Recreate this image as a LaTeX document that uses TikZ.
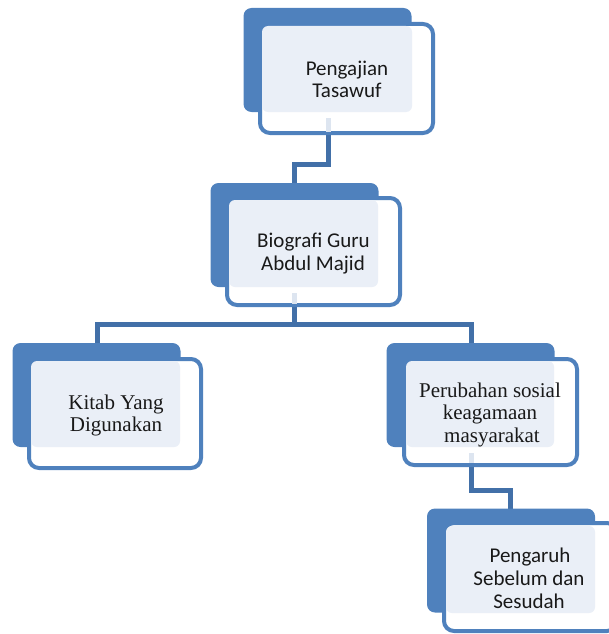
\documentclass[tikz,border=0pt]{standalone}
\usepackage{fontspec}
\setmainfont{Liberation Serif}
\newfontfamily\calibri{Carlito}
\definecolor{blueA}{RGB}{79,129,189}
\definecolor{connblue}{RGB}{66,112,168}
\definecolor{lightfill}{RGB}{234,239,247}
\definecolor{faint}{RGB}{221,229,240}
\tikzset{
  backbox/.style={rectangle, rounded corners=8pt, fill=blueA, inner sep=0pt, outer sep=0pt, minimum width=168pt, minimum height=104pt},
  frontbox/.style={rectangle, rounded corners=10pt, draw=blueA, line width=4pt, fill=white, inner sep=0pt, outer sep=0pt, minimum width=173pt, minimum height=107pt},
  conn/.style={draw=connblue, line width=5pt},
  faintline/.style={draw=faint, line width=5pt},
  sanslbl/.style={font=\calibri\fontsize{21}{23.5}\selectfont, text=black!90, align=center, inner sep=0pt, anchor=base},
  seriflbl/.style={font=\fontsize{21}{22.5}\selectfont, text=black!90, align=center, inner sep=0pt, anchor=base}
}
\newcommand{\lightpart}[4]{\fill[lightfill, rounded corners=6pt] (#1,#2) rectangle (#3,#4);}
\begin{document}
\begin{tikzpicture}[x=1pt,y=-1pt]
\useasboundingbox (0,0) rectangle (609,634);
\clip (0,0) rectangle (609,634);

% connector anchor coordinates
\coordinate (c1a) at (328.5,120);
\coordinate (c1b) at (328.5,164.5);
\coordinate (c1c) at (294.5,164.5);
\coordinate (c1d) at (294.5,190);
\coordinate (c2a) at (294.5,295);
\coordinate (c2b) at (294.5,324);
\coordinate (c2l) at (97,324);
\coordinate (c2r) at (471,324);
\coordinate (c3in) at (97,350);
\coordinate (c4in) at (471,350);
\coordinate (c4a) at (471,455);
\coordinate (c4b) at (471,490);
\coordinate (c4c) at (510.5,490);
\coordinate (c5in) at (510.5,515);

% connectors
\draw[conn] (c1a) -- (c1b) -- (c1c) -- (c1d);
\draw[conn] (c2a) -- (c2b);
\draw[conn] (c3in) -- (c2l) -- (c2r) -- (c4in);
\draw[conn] (c4a) -- (c4b) -- (c4c) -- (c5in);

% node 1
\node[backbox] (n1b) at (327.5,60) {};
\node[frontbox, minimum height=109pt] (n1) at (346.5,78.5) {};
\lightpart{262}{26}{412}{112}
\draw[faintline] (328.5,118) -- (328.5,132);
\node[sanslbl] (t1a) at (347,75) {Pengajian};
\node[sanslbl] (t1b) at (347,97.5) {Tasawuf};

% node 2
\node[backbox] (n2b) at (294.5,235) {};
\node[frontbox] (n2) at (313.5,251.5) {};
\lightpart{229}{200}{378}{287}
\draw[faintline] (294.5,293) -- (294.5,304);
\node[sanslbl] (t2a) at (313.5,247) {Biografi Guru};
\node[sanslbl] (t2b) at (313,270) {Abdul Majid};

% node 3
\node[backbox] (n3b) at (96.5,395) {};
\node[frontbox, minimum width=172pt, minimum height=109pt] (n3) at (115,413.5) {};
\lightpart{31}{361}{180}{447}
\node[seriflbl] (t3a) at (116,409) {Kitab Yang};
\node[seriflbl] (t3b) at (116,431) {Digunakan};

% node 4
\node[backbox] (n4b) at (470.5,395) {};
\node[frontbox, minimum height=106pt] (n4) at (490.5,412) {};
\lightpart{406}{361}{554}{447}
\draw[faintline] (471,453) -- (471,463);
\node[seriflbl] (t4a) at (490,397.5) {Perubahan sosial};
\node[seriflbl] (t4b) at (490,419.5) {keagamaan};
\node[seriflbl] (t4c) at (492,442) {masyarakat};

% node 5
\node[backbox] (n5b) at (511,560.5) {};
\node[frontbox, minimum height=108pt] (n5) at (530.5,577) {};
\lightpart{446}{526}{595}{613}
\node[sanslbl] (t5a) at (530,562) {Pengaruh};
\node[sanslbl] (t5b) at (529,585) {Sebelum dan};
\node[sanslbl] (t5c) at (529,608) {Sesudah};
\end{tikzpicture}
\end{document}
